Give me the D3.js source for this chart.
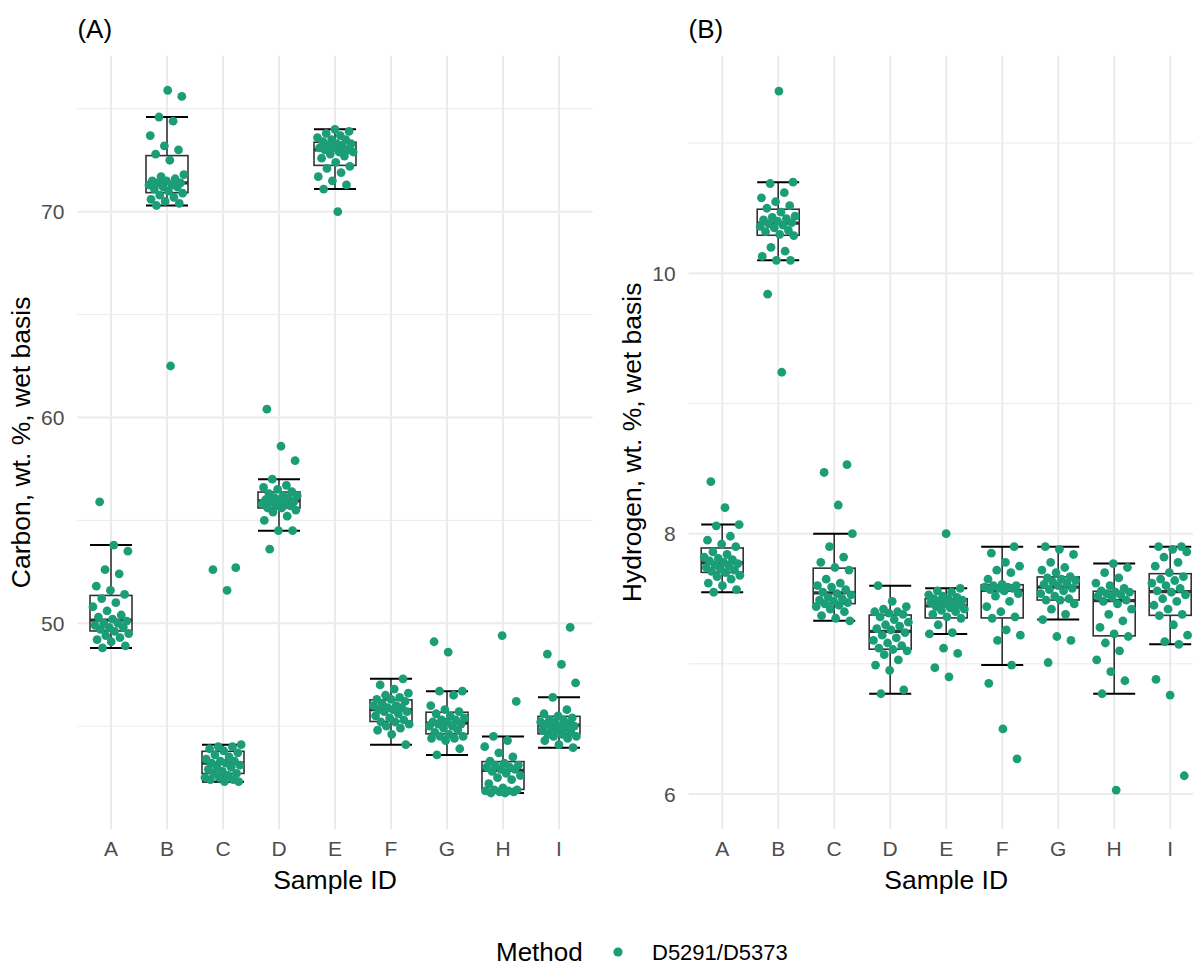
<!DOCTYPE html>
<head>
  <meta charset="utf-8">
  <script src="https://d3js.org/d3.v7.min.js"></script>
  <style>
    body { margin:0; background:#fff; }
    text { font-family: "Liberation Sans", Arial, sans-serif; }
  </style>
</head>
<body>
<svg width="1193" height="966"></svg>
<script>

const sampleIds = ["A","B","C","D","E","F","G","H","I"]

// carbon, wt. %, wet basis (one list per sample, same order as sampleIds)
const carbonBySample = [
  [48.8,48.9,49.1,49.2,49.3,49.4,49.5,49.6,49.7,49.8,49.8,49.9,50.0,50.0,50.1,50.2,50.3,50.4,50.6,50.8,51.0,51.2,51.4,51.6,51.8,52.4,52.6,53.5,53.8,55.9],
  [62.5,70.3,70.4,70.5,70.6,70.7,70.8,70.9,71.0,71.1,71.2,71.2,71.3,71.3,71.4,71.4,71.5,71.5,71.6,71.7,71.8,72.5,72.8,73.0,73.2,73.7,74.4,74.6,75.6,75.9],
  [42.3,42.3,42.4,42.4,42.5,42.5,42.6,42.7,42.7,42.8,42.9,43.0,43.0,43.1,43.2,43.2,43.3,43.3,43.4,43.5,43.6,43.7,43.8,43.9,44.0,44.0,44.1,51.6,52.6,52.7],
  [53.6,54.5,54.5,55.0,55.2,55.4,55.5,55.6,55.6,55.7,55.7,55.8,55.8,55.9,55.9,56.0,56.0,56.1,56.1,56.2,56.2,56.3,56.4,56.5,56.6,56.7,57.0,57.9,58.6,60.4],
  [70.0,71.1,71.3,71.5,71.7,71.9,72.1,72.2,72.4,72.6,72.7,72.8,72.9,72.9,73.0,73.0,73.1,73.1,73.2,73.2,73.3,73.3,73.4,73.5,73.5,73.6,73.7,73.8,73.9,74.0],
  [44.1,44.6,44.8,44.9,45.0,45.1,45.2,45.2,45.3,45.4,45.5,45.6,45.7,45.7,45.8,45.8,45.9,45.9,46.0,46.0,46.1,46.2,46.3,46.3,46.4,46.5,46.6,46.8,47.0,47.3],
  [43.6,43.9,44.3,44.4,44.4,44.5,44.5,44.6,44.7,44.8,44.9,45.0,45.0,45.1,45.1,45.2,45.2,45.3,45.3,45.4,45.5,45.6,45.7,45.8,46.0,46.5,46.7,46.7,48.6,49.1],
  [41.75,41.75,41.8,41.8,41.85,41.85,41.9,41.9,42.0,42.2,42.4,42.5,42.6,42.7,42.8,42.9,42.9,43.0,43.0,43.1,43.1,43.2,43.3,43.5,43.7,44.0,44.3,44.5,46.2,49.4],
  [43.95,44.1,44.3,44.4,44.5,44.5,44.6,44.6,44.7,44.8,44.8,44.9,44.9,45.0,45.0,45.1,45.1,45.2,45.2,45.3,45.3,45.4,45.5,45.6,45.8,46.4,47.1,48.0,48.5,49.8]
]

// hydrogen, wt. %, wet basis
const hydrogenBySample = [
  [7.55,7.57,7.60,7.62,7.65,7.67,7.68,7.70,7.71,7.72,7.73,7.74,7.75,7.76,7.77,7.78,7.79,7.80,7.81,7.82,7.84,7.86,7.90,7.92,7.95,7.98,8.06,8.07,8.20,8.40],
  [9.24,9.84,10.10,10.10,10.13,10.17,10.20,10.29,10.30,10.32,10.33,10.35,10.36,10.37,10.38,10.39,10.40,10.41,10.42,10.43,10.44,10.47,10.50,10.52,10.55,10.58,10.62,10.69,10.70,11.40],
  [7.33,7.35,7.37,7.40,7.42,7.44,7.45,7.46,7.47,7.48,7.49,7.50,7.51,7.53,7.54,7.55,7.57,7.59,7.60,7.62,7.65,7.72,7.74,7.78,7.82,7.90,8.00,8.22,8.47,8.53],
  [6.77,6.80,6.95,6.99,7.03,7.07,7.10,7.11,7.12,7.14,7.16,7.18,7.20,7.22,7.24,7.26,7.27,7.29,7.30,7.32,7.34,7.36,7.38,7.39,7.40,7.40,7.42,7.44,7.48,7.60],
  [6.90,6.97,7.08,7.12,7.23,7.24,7.30,7.35,7.36,7.38,7.40,7.41,7.42,7.43,7.44,7.45,7.46,7.47,7.47,7.48,7.49,7.50,7.50,7.51,7.52,7.53,7.55,7.56,7.58,8.00],
  [6.27,6.50,6.85,6.99,7.18,7.22,7.26,7.35,7.36,7.40,7.44,7.48,7.52,7.54,7.56,7.57,7.58,7.58,7.59,7.59,7.60,7.60,7.61,7.65,7.70,7.72,7.75,7.78,7.85,7.90],
  [7.01,7.18,7.21,7.34,7.38,7.42,7.46,7.49,7.49,7.50,7.52,7.54,7.56,7.57,7.58,7.60,7.61,7.62,7.63,7.64,7.65,7.66,7.67,7.70,7.72,7.74,7.78,7.84,7.88,7.90],
  [6.03,6.77,6.87,6.94,7.03,7.10,7.16,7.21,7.23,7.28,7.33,7.38,7.42,7.46,7.48,7.49,7.51,7.52,7.53,7.54,7.55,7.55,7.56,7.58,7.60,7.62,7.66,7.70,7.74,7.77],
  [6.14,6.76,6.88,7.15,7.17,7.22,7.30,7.37,7.38,7.42,7.45,7.48,7.50,7.53,7.55,7.56,7.58,7.60,7.62,7.64,7.65,7.67,7.70,7.75,7.78,7.82,7.86,7.88,7.90,7.90]
]

const carbonTicks = [50, 60, 70]
const carbonMinor = [45, 55, 65, 75]
const hydrogenTicks = [6, 8, 10]
const hydrogenMinor = [7, 9, 11]

const methodName = "D5291/D5373"
const pointColor = "#1B9E77"

const svg = d3.select("svg")

const panelTop = 55.7, panelBottom = 829

function panel(opts) {
  const g = svg.append("g")
  const x = d3.scalePoint().domain(sampleIds).range([opts.left, opts.right]).padding(0.6)
  const y = d3.scaleLinear().domain(opts.domain).range([panelBottom, panelTop])
  const step = x.step()

  // grid
  g.selectAll(".minor").data(opts.minor).enter().append("line")
    .attr("x1", opts.left).attr("x2", opts.right)
    .attr("y1", d => y(d)).attr("y2", d => y(d))
    .attr("stroke", "#EBEBEB").attr("stroke-width", 1)
  g.selectAll(".major").data(opts.ticks).enter().append("line")
    .attr("x1", opts.left).attr("x2", opts.right)
    .attr("y1", d => y(d)).attr("y2", d => y(d))
    .attr("stroke", "#EBEBEB").attr("stroke-width", 2)
  g.selectAll(".vgrid").data(sampleIds).enter().append("line")
    .attr("x1", d => x(d)).attr("x2", d => x(d))
    .attr("y1", panelTop).attr("y2", panelBottom)
    .attr("stroke", "#EBEBEB").attr("stroke-width", 2)

  // tick labels
  g.selectAll(".ytl").data(opts.ticks).enter().append("text")
    .attr("x", opts.left - 13).attr("y", d => y(d)).attr("dy", "0.36em")
    .attr("text-anchor", "end").attr("font-size", 21).attr("fill", "#4D4D4D")
    .text(d => d)
  g.selectAll(".xtl").data(sampleIds).enter().append("text")
    .attr("x", d => x(d)).attr("y", 856)
    .attr("text-anchor", "middle").attr("font-size", 21).attr("fill", "#4D4D4D")
    .text(d => d)

  // axis titles
  g.append("text")
    .attr("x", (x(sampleIds[0]) + x(sampleIds[8])) / 2).attr("y", 889)
    .attr("text-anchor", "middle").attr("font-size", 26.5).attr("fill", "#000")
    .text("Sample ID")
  g.append("text")
    .attr("transform", `translate(${opts.titleX},${(panelTop + panelBottom) / 2}) rotate(-90)`)
    .attr("text-anchor", "middle").attr("font-size", 26.5).attr("fill", "#000")
    .text(opts.title)
  g.append("text")
    .attr("x", opts.left).attr("y", 38)
    .attr("font-size", 26).attr("fill", "#000")
    .text(opts.tag)

  // boxplots
  const bw = step * 0.75
  opts.data.forEach((vals, k) => {
    const s = vals.slice().sort(d3.ascending)
    const q1 = d3.quantileSorted(s, 0.25), med = d3.quantileSorted(s, 0.5), q3 = d3.quantileSorted(s, 0.75)
    const iqr = q3 - q1
    const lo = d3.min(s.filter(v => v >= q1 - 1.5 * iqr))
    const hi = d3.max(s.filter(v => v <= q3 + 1.5 * iqr))
    const cx = x(sampleIds[k])
    const b = g.append("g")
    b.append("line").attr("x1", cx).attr("x2", cx).attr("y1", y(hi)).attr("y2", y(q3))
      .attr("stroke", "#333").attr("stroke-width", 1.6)
    b.append("line").attr("x1", cx).attr("x2", cx).attr("y1", y(q1)).attr("y2", y(lo))
      .attr("stroke", "#333").attr("stroke-width", 1.6)
    ;[lo, hi].forEach(v => b.append("line")
      .attr("x1", cx - bw / 2).attr("x2", cx + bw / 2).attr("y1", y(v)).attr("y2", y(v))
      .attr("stroke", "#000").attr("stroke-width", 2))
    b.append("rect").attr("x", cx - bw / 2).attr("width", bw)
      .attr("y", y(q3)).attr("height", y(q1) - y(q3))
      .attr("fill", "#fff").attr("stroke", "#333").attr("stroke-width", 1.6)
    b.append("line").attr("x1", cx - bw / 2).attr("x2", cx + bw / 2).attr("y1", y(med)).attr("y2", y(med))
      .attr("stroke", "#333").attr("stroke-width", 3.2)
  })

  // jittered points (deterministic spread within a category step)
  const pts = []
  opts.data.forEach((vals, k) => vals.forEach((v, i) => pts.push({ id: sampleIds[k], v: v, i: i + k * 7 })))
  g.selectAll(".pt").data(pts).enter().append("circle")
    .attr("cx", d => x(d.id) + (((d.i * 0.618034 + 0.27) % 1) * 2 - 1) * 0.33 * step)
    .attr("cy", d => y(d.v))
    .attr("r", 4.4)
    .attr("fill", pointColor)
}

panel({ left: 77.4, right: 592.6, domain: [40.0, 77.58], ticks: carbonTicks, minor: carbonMinor,
        data: carbonBySample, title: "Carbon, wt. %, wet basis", titleX: 30, tag: "(A)" })
panel({ left: 688.6, right: 1203.8, domain: [5.731, 11.672], ticks: hydrogenTicks, minor: hydrogenMinor,
        data: hydrogenBySample, title: "Hydrogen, wt. %, wet basis", titleX: 641, tag: "(B)" })

// legend
const leg = svg.append("g")
leg.append("text").attr("x", 496).attr("y", 961).attr("font-size", 26).attr("fill", "#000").text("Method")
leg.append("circle").attr("cx", 618).attr("cy", 952).attr("r", 4.6).attr("fill", pointColor)
leg.append("text").attr("x", 652).attr("y", 960).attr("font-size", 22).attr("fill", "#000").text(methodName)

</script>
</body>
